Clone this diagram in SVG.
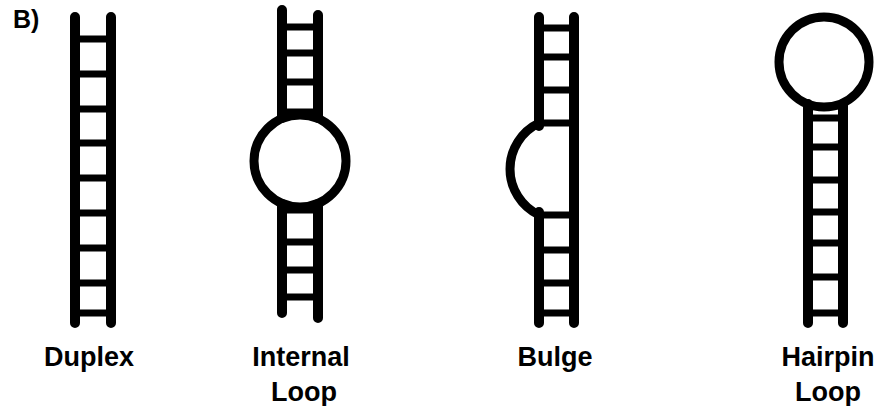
<svg xmlns="http://www.w3.org/2000/svg" width="875" height="406" viewBox="0 0 875 406">
<style>
.rail{stroke:#000;stroke-width:10;stroke-linecap:round;fill:none}
.rung{stroke:#000;stroke-width:7;fill:none}
.loop{stroke:#000;stroke-width:9;fill:none}
text{font-family:"Liberation Sans",Arial,sans-serif;font-weight:bold;font-size:27px;fill:#000}
</style>
<rect width="875" height="406" fill="#fff"/>
<text x="13" y="28" style="font-size:25px">B)</text>
<g id="duplex">
<path class="rung" d="M75,39H111M75,74H111M75,109H111M75,143H111M75,178H111M75,213H111M75,248H111M75,283H111M75,313H111"/>
<path class="rail" d="M75,17V323M111,17V323"/>
<text x="89" y="366" text-anchor="middle">Duplex</text>
</g>
<g id="internal-loop">
<path class="rung" d="M282,27H318M282,53H318M282,82H318M282,112H318M282,210H318M282,242H318M282,270H318M282,297H318"/>
<path class="rail" d="M282,10V118M318,15V118M282,204V313M318,204V318"/>
<circle class="loop" cx="300" cy="161" r="46"/>
<text x="301" y="366" text-anchor="middle">Internal</text>
<text x="304" y="401" text-anchor="middle">Loop</text>
</g>
<g id="bulge">
<path class="rung" d="M539,28H574M539,57H574M539,90H574M539,123H574M539,215H574M539,250H574M539,283H574M539,313H574"/>
<path class="rail" d="M539,17V126M539,212V323M574,17V323"/>
<path class="loop" d="M539,123A51,51 0 0,0 539,215"/>
<text x="555" y="366" text-anchor="middle">Bulge</text>
</g>
<g id="hairpin-loop">
<path class="rung" d="M808,118H843M808,147H843M808,180H843M808,212H843M808,243H843M808,277H843M808,313H843"/>
<path class="rail" d="M808,104V323M843,104V323"/>
<circle class="loop" cx="824" cy="62" r="45"/>
<text x="828" y="366" text-anchor="middle">Hairpin</text>
<text x="828" y="401" text-anchor="middle">Loop</text>
</g>
</svg>
